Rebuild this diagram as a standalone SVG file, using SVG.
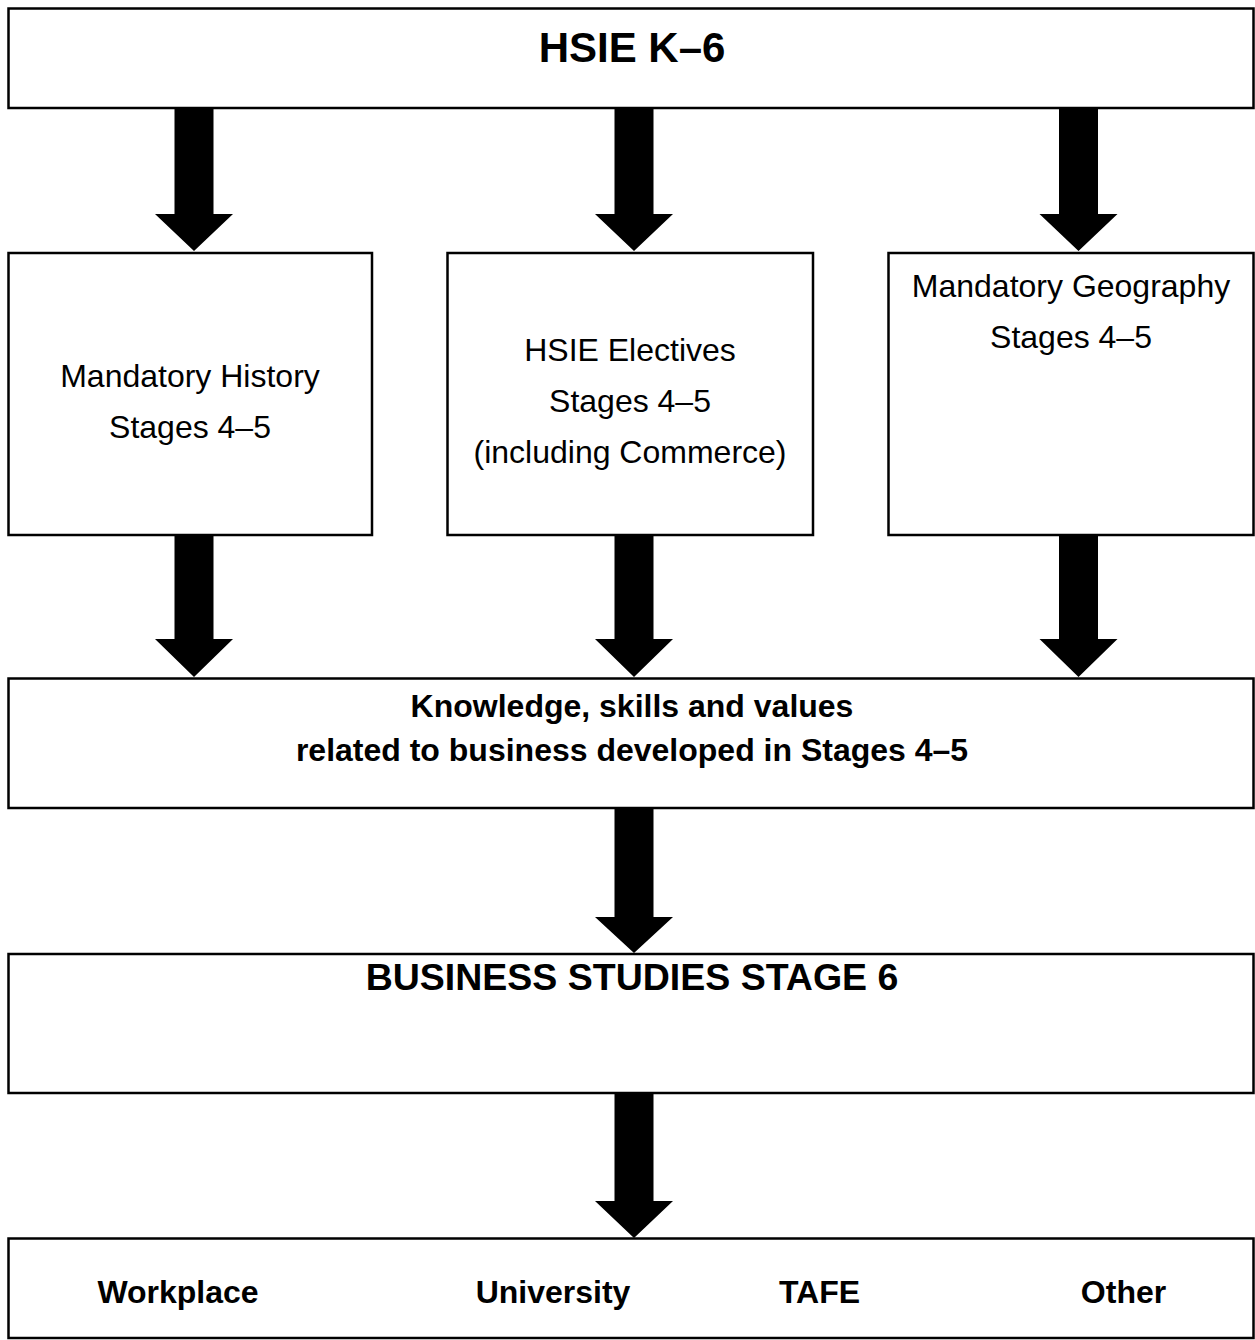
<svg xmlns="http://www.w3.org/2000/svg" width="1255" height="1340" viewBox="0 0 1255 1340">
<style>
.box{fill:#fff;stroke:#000;stroke-width:2.5}
.arr{fill:#000;stroke:none}
text{font-family:"Liberation Sans",Arial,sans-serif;fill:#000;text-anchor:middle}
.n{font-size:32px}
.b{font-size:32px;font-weight:bold}
.t{font-weight:bold}
</style>
<rect x="0" y="0" width="1255" height="1340" fill="#fff"/>
<g id="connectors">
<path class="arr" d="M174.5,107 H213.5 V214 H233 L194,251 L155,214 H174.5 Z"/>
<path class="arr" d="M614.5,107 H653.5 V214 H673 L634,251 L595,214 H614.5 Z"/>
<path class="arr" d="M1059,107 H1098 V214 H1117.5 L1078.5,251 L1039.5,214 H1059 Z"/>
<path class="arr" d="M174.5,532 H213.5 V639 H233 L194,677 L155,639 H174.5 Z"/>
<path class="arr" d="M614.5,532 H653.5 V639 H673 L634,677 L595,639 H614.5 Z"/>
<path class="arr" d="M1059,532 H1098 V639 H1117.5 L1078.5,677 L1039.5,639 H1059 Z"/>
<path class="arr" d="M614.5,807 H653.5 V917 H673 L634,953 L595,917 H614.5 Z"/>
<path class="arr" d="M614.5,1092 H653.5 V1201 H673 L634,1238 L595,1201 H614.5 Z"/>
</g>
<g id="hsie-k6">
<rect class="box" x="8.5" y="8.5" width="1245" height="99.5"/>
<text class="t" x="632" y="62" font-size="42">HSIE K–6</text>
</g>
<g id="history">
<rect class="box" x="8.5" y="253" width="363.5" height="282"/>
<text class="n" x="190" y="387">Mandatory History</text>
<text class="n" x="190" y="438">Stages 4–5</text>
</g>
<g id="electives">
<rect class="box" x="447.5" y="253" width="365.5" height="282"/>
<text class="n" x="630" y="361">HSIE Electives</text>
<text class="n" x="630" y="412">Stages 4–5</text>
<text class="n" x="630" y="463">(including Commerce)</text>
</g>
<g id="geography">
<rect class="box" x="888.5" y="253" width="365" height="282"/>
<text class="n" x="1071" y="297">Mandatory Geography</text>
<text class="n" x="1071" y="348">Stages 4–5</text>
</g>
<g id="knowledge">
<rect class="box" x="8.5" y="678.5" width="1245" height="129.5"/>
<text class="b" x="632" y="717">Knowledge, skills and values</text>
<text class="b" x="632" y="761">related to business developed in Stages 4–5</text>
</g>
<g id="business-studies">
<rect class="box" x="8.5" y="954" width="1245" height="139"/>
<text class="t" x="632" y="990" font-size="37.5">BUSINESS STUDIES STAGE 6</text>
</g>
<g id="destinations">
<rect class="box" x="8.5" y="1238.5" width="1245" height="99.5"/>
<text class="b" x="178" y="1303">Workplace</text>
<text class="b" x="553" y="1303">University</text>
<text class="b" x="819.5" y="1303">TAFE</text>
<text class="b" x="1123.5" y="1303">Other</text>
</g>
</svg>
